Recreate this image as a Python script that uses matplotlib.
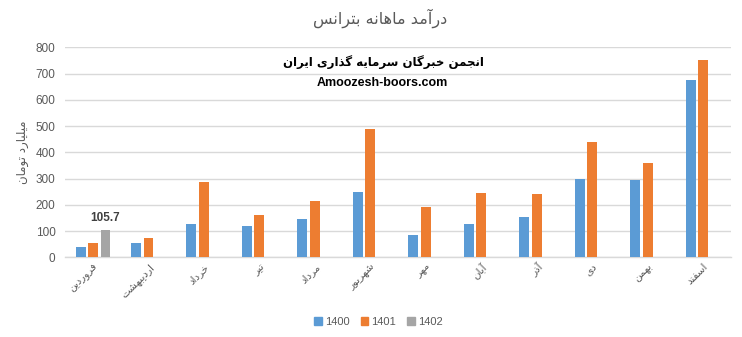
import matplotlib
matplotlib.use("Agg")
import matplotlib.pyplot as plt
import numpy as np
from matplotlib.patches import Patch

# ---- data -------------------------------------------------------------
months = ["فروردین", "اردیبهشت", "خرداد", "تیر", "مرداد", "شهریور",
          "مهر", "آبان", "آذر", "دی", "بهمن", "اسفند"]
rev_1400 = [39, 54, 126, 118, 144, 247, 84, 127, 153, 298, 295, 675]
rev_1401 = [54, 73, 285, 160, 213, 487, 190, 245, 242, 439, 359, 752]
rev_1402 = [105.7]
series_names = ["1400", "1401", "1402"]
yticks = [0, 100, 200, 300, 400, 500, 600, 700, 800]

title_text = "درآمد ماهانه بترانس"
ylabel_text = "میلیارد تومان"
brand_fa = "انجمن خبرگان سرمایه گذاری ایران"
brand_en = "Amoozesh-boors.com"

# ---- minimal Persian shaping (contextual forms + visual order) --------
FORMS = {  # isolated, final, initial, medial
    "ا": ("\uFE8D", "\uFE8E", None, None),
    "آ": ("\uFE81", "\uFE82", None, None),
    "ب": ("\uFE8F", "\uFE90", "\uFE91", "\uFE92"),
    "ت": ("\uFE95", "\uFE96", "\uFE97", "\uFE98"),
    "ج": ("\uFE9D", "\uFE9E", "\uFE9F", "\uFEA0"),
    "خ": ("\uFEA5", "\uFEA6", "\uFEA7", "\uFEA8"),
    "د": ("\uFEA9", "\uFEAA", None, None),
    "ذ": ("\uFEAB", "\uFEAC", None, None),
    "ر": ("\uFEAD", "\uFEAE", None, None),
    "ز": ("\uFEAF", "\uFEB0", None, None),
    "س": ("\uFEB1", "\uFEB2", "\uFEB3", "\uFEB4"),
    "ش": ("\uFEB5", "\uFEB6", "\uFEB7", "\uFEB8"),
    "ف": ("\uFED1", "\uFED2", "\uFED3", "\uFED4"),
    "ل": ("\uFEDD", "\uFEDE", "\uFEDF", "\uFEE0"),
    "م": ("\uFEE1", "\uFEE2", "\uFEE3", "\uFEE4"),
    "ن": ("\uFEE5", "\uFEE6", "\uFEE7", "\uFEE8"),
    "ه": ("\uFEE9", "\uFEEA", "\uFEEB", "\uFEEC"),
    "و": ("\uFEED", "\uFEEE", None, None),
    "ی": ("\uFBFC", "\uFBFD", "\uFBFE", "\uFBFF"),
    "گ": ("\uFB92", "\uFB93", "\uFB94", "\uFB95"),
    "ک": ("\uFB8E", "\uFB8F", "\uFB90", "\uFB91"),
}


def dual(ch):
    return ch in FORMS and FORMS[ch][2] is not None


def shape(text):
    out = []
    for i, ch in enumerate(text):
        if ch not in FORMS:
            out.append(ch)
            continue
        prev_c = text[i - 1] if i > 0 else ""
        next_c = text[i + 1] if i + 1 < len(text) else ""
        join_prev = dual(prev_c)
        join_next = dual(ch) and next_c in FORMS
        iso, fin, ini, med = FORMS[ch]
        if join_prev and join_next:
            out.append(med)
        elif join_prev:
            out.append(fin)
        elif join_next:
            out.append(ini)
        else:
            out.append(iso)
    return "".join(out)[::-1]


# ---- figure -----------------------------------------------------------
plt.rcParams["font.family"] = ["DejaVu Sans"]
fig = plt.figure(figsize=(7.42, 3.37), dpi=100)
ax = fig.add_axes([0.088, 0.2365, 0.897, 0.6232])

blue, orange, gray = "#5B9BD5", "#ED7D31", "#A5A5A5"
text_gray = "#595959"

x = np.arange(len(months))
slot = 0.225
width = 0.18
ax.bar(x - slot, rev_1400, width, color=blue, zorder=3)
ax.bar(x, rev_1401, width, color=orange, zorder=3)
x3 = x[:len(rev_1402)] + slot
ax.bar(x3, rev_1402, width, color=gray, zorder=3)

for bx, val in zip(x3, rev_1402):
    ax.text(bx, val + 22, f"{val:.1f}", ha="center", va="bottom",
            fontsize=8.5, fontweight="bold", color="#404040",
            family="Liberation Sans")

ax.set_xlim(-0.5, len(months) - 0.5)
ax.set_ylim(0, 800)
ax.set_yticks(yticks)
ax.set_yticklabels([str(t) for t in yticks], family="Liberation Sans",
                   fontsize=8.5, color=text_gray)
ax.tick_params(axis="y", length=0, pad=7)
ax.tick_params(axis="x", length=0, pad=3)
ax.set_xticks(x)
ax.set_xticklabels([shape(m) for m in months], rotation=45, ha="right",
                   va="top", rotation_mode="anchor", fontsize=7.5,
                   color=text_gray)
ax.grid(axis="y", color="#D9D9D9", linewidth=1, zorder=0)
for side in ("top", "right", "left"):
    ax.spines[side].set_visible(False)
ax.spines["bottom"].set_color("#D9D9D9")
ax.spines["bottom"].set_linewidth(1)

ax.set_ylabel(shape(ylabel_text), fontsize=8.5, color=text_gray)
ax.yaxis.set_label_coords(-0.054, 0.5)

fig.text(0.512, 0.945, shape(title_text), ha="center", va="center",
         fontsize=11.5, color=text_gray)

ax.text(0.478, 0.93, shape(brand_fa), transform=ax.transAxes, ha="center",
        va="center", fontsize=8.5, fontweight="bold", color="black")
ax.text(0.476, 0.83, brand_en, transform=ax.transAxes, ha="center",
        va="center", fontsize=9, fontweight="bold", color="black",
        family="Liberation Sans")

handles = [Patch(color=c) for c in (blue, orange, gray)]
fig.legend(handles, series_names, loc="center", bbox_to_anchor=(0.51, 0.045),
           ncol=3, frameon=False, handlelength=0.7, handleheight=0.7,
           columnspacing=1.0, handletextpad=0.25,
           prop={"family": "Liberation Sans", "size": 8},
           labelcolor=text_gray)

fig.savefig("out.png", dpi=100)
